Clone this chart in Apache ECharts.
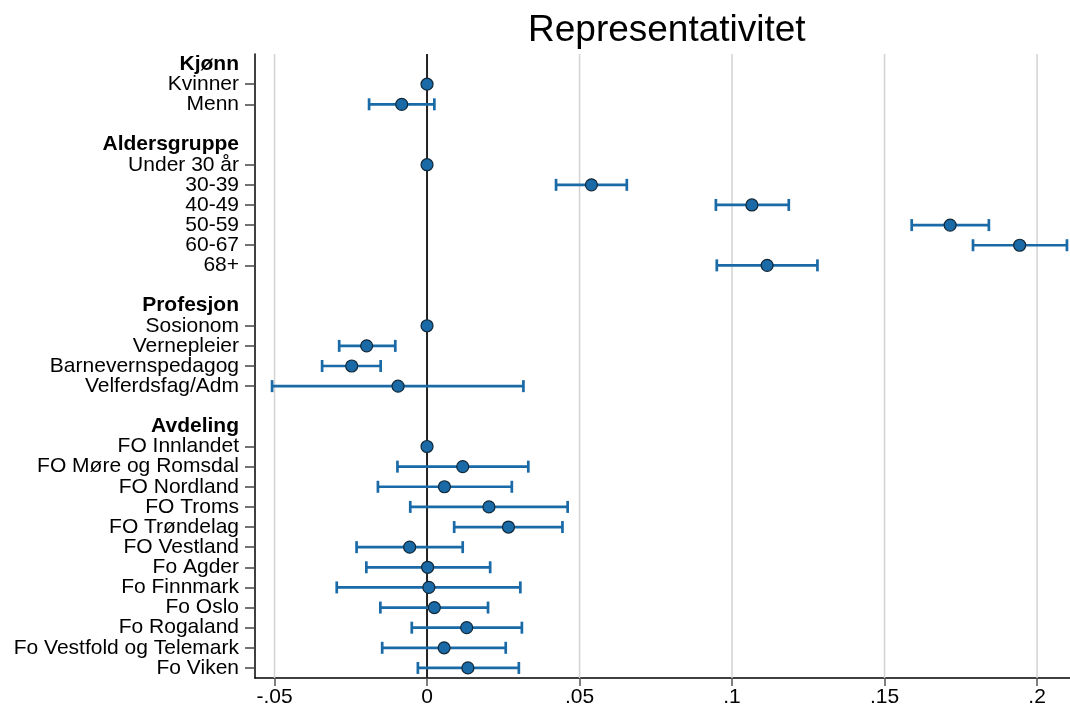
<!DOCTYPE html>
<html>
<head>
<meta charset="utf-8">
<script src="https://cdn.jsdelivr.net/npm/echarts@6/dist/echarts.min.js"></script>
<style>
  html, body { margin: 0; padding: 0; background: #fff; }
  #main { width: 1070px; height: 711px; }
</style>
</head>
<body>
<div id="main"></div>
<script>
// rader i plottet, ovenfra og ned (blanke = tom rad)
var rowLabels = [
    'Kjønn', 'Kvinner', 'Menn', ' ',
    'Aldersgruppe', 'Under 30 år', '30-39', '40-49', '50-59', '60-67', '68+', '  ',
    'Profesjon', 'Sosionom', 'Vernepleier', 'Barnevernspedagog', 'Velferdsfag/Adm', '   ',
    'Avdeling', 'FO Innlandet', 'FO Møre og Romsdal', 'FO Nordland', 'FO Troms', 'FO Trøndelag',
    'FO Vestland', 'Fo Agder', 'Fo Finnmark', 'Fo Oslo', 'Fo Rogaland', 'Fo Vestfold og Telemark', 'Fo Viken'
];
var headerRows = ['Kjønn', 'Aldersgruppe', 'Profesjon', 'Avdeling'];

// punktestimat og konfidensintervall (null = ingen)
var estimates = [
    null, 0, -0.0083, null,
    null, 0, 0.0539, 0.1065, 0.1715, 0.1943, 0.1115, null,
    null, 0, -0.0198, -0.0247, -0.0095, null,
    null, 0, 0.0117, 0.0057, 0.0203, 0.0267,
    -0.0057, 0.0002, 0.0006, 0.0024, 0.0130, 0.0056, 0.0134
];
var lower = [
    null, null, -0.0190, null,
    null, null, 0.0423, 0.0947, 0.1589, 0.1790, 0.0950, null,
    null, null, -0.0288, -0.0344, -0.0508, null,
    null, null, -0.0097, -0.0161, -0.0055, 0.0089,
    -0.0231, -0.0199, -0.0296, -0.0153, -0.0050, -0.0147, -0.0030
];
var upper = [
    null, null, 0.0024, null,
    null, null, 0.0655, 0.1186, 0.1842, 0.2098, 0.1280, null,
    null, null, -0.0104, -0.0152, 0.0316, null,
    null, null, 0.0332, 0.0278, 0.0461, 0.0444,
    0.0117, 0.0207, 0.0306, 0.0200, 0.0311, 0.0258, 0.0301
];

var tickValues = [-0.05, 0, 0.05, 0.1, 0.15, 0.2];
var tickLabels = ['-.05', '0', '.05', '.1', '.15', '.2'];

var blue = '#1a6aa8';
var font = 'Liberation Sans, Arial, sans-serif';

var pointData = [];
var barData = [];
for (var i = 0; i < rowLabels.length; i++) {
    if (estimates[i] !== null) pointData.push([estimates[i], i]);
    if (lower[i] !== null) barData.push([lower[i], upper[i], i]);
}

var gridData = [];
for (var i = 0; i < tickValues.length; i++) {
    gridData.push([tickValues[i], 0]);
}

var myChart = echarts.init(document.getElementById('main'));

var option = {
    animation: false,
    backgroundColor: '#fff',
    title: {
        text: 'Representativitet',
        left: 523,
        top: 7,
        textStyle: {fontFamily: font, fontSize: 37, fontWeight: 'normal', color: '#000'}
    },
    grid: {left: 255, right: 0, top: 54, bottom: 33, containLabel: false},
    xAxis: {
        type: 'value',
        min: -0.0564,
        max: 0.2108,
        axisLine: {show: true, onZero: false, lineStyle: {color: '#000', width: 1.5}},
        axisTick: {show: true, length: 8, customValues: tickValues, lineStyle: {color: '#555', width: 1.5}},
        axisLabel: {
            customValues: tickValues,
            margin: 9,
            fontFamily: font,
            fontSize: 21,
            color: '#000',
            formatter: function (v) {
                for (var k = 0; k < tickValues.length; k++) {
                    if (Math.abs(tickValues[k] - v) < 1e-9) return tickLabels[k];
                }
                return '';
            }
        },
        splitLine: {show: false}
    },
    yAxis: {
        type: 'category',
        inverse: true,
        data: rowLabels,
        boundaryGap: true,
        axisLine: {show: true, onZero: false, lineStyle: {color: '#000', width: 1.5}},
        axisTick: {
            show: true,
            length: 10,
            alignWithLabel: true,
            interval: function (idx, val) {
                return estimates[idx] !== null;
            },
            lineStyle: {color: '#444', width: 1.5}
        },
        axisLabel: {
            interval: 0,
            margin: 16,
            fontFamily: font,
            fontSize: 21,
            color: '#000',
            formatter: function (val) {
                if (headerRows.indexOf(val) >= 0) return '{b|' + val + '}';
                return val;
            },
            rich: {
                b: {fontFamily: font, fontSize: 21, fontWeight: 'bold', color: '#000'}
            }
        },
        splitLine: {show: false}
    },
    series: [
        {
            // rutenett og nullinje
            type: 'custom',
            z: 1,
            silent: true,
            data: gridData,
            renderItem: function (params, api) {
                var v = api.value(0);
                var p = api.coord([v, 0]);
                var cs = params.coordSys;
                return {
                    type: 'line',
                    shape: {x1: p[0], y1: cs.y, x2: p[0], y2: cs.y + cs.height},
                    style: v === 0 ? {stroke: '#222', lineWidth: 2} : {stroke: '#d3d3d3', lineWidth: 1.5}
                };
            }
        },
        {
            type: 'custom',
            z: 3,
            data: barData,
            renderItem: function (params, api) {
                var y = api.value(2);
                var a = api.coord([api.value(0), y]);
                var b = api.coord([api.value(1), y]);
                var h = 6;
                var style = {stroke: blue, lineWidth: 2.7, fill: null};
                return {
                    type: 'group',
                    children: [
                        {type: 'line', shape: {x1: a[0], y1: a[1], x2: b[0], y2: b[1]}, style: style},
                        {type: 'line', shape: {x1: a[0], y1: a[1] - h, x2: a[0], y2: a[1] + h}, style: style},
                        {type: 'line', shape: {x1: b[0], y1: b[1] - h, x2: b[0], y2: b[1] + h}, style: style}
                    ]
                };
            }
        },
        {
            type: 'scatter',
            z: 4,
            data: pointData,
            symbol: 'circle',
            symbolSize: 12,
            itemStyle: {color: blue, borderColor: '#102838', borderWidth: 1.2, opacity: 1}
        }
    ]
};

myChart.setOption(option);
</script>
</body>
</html>
